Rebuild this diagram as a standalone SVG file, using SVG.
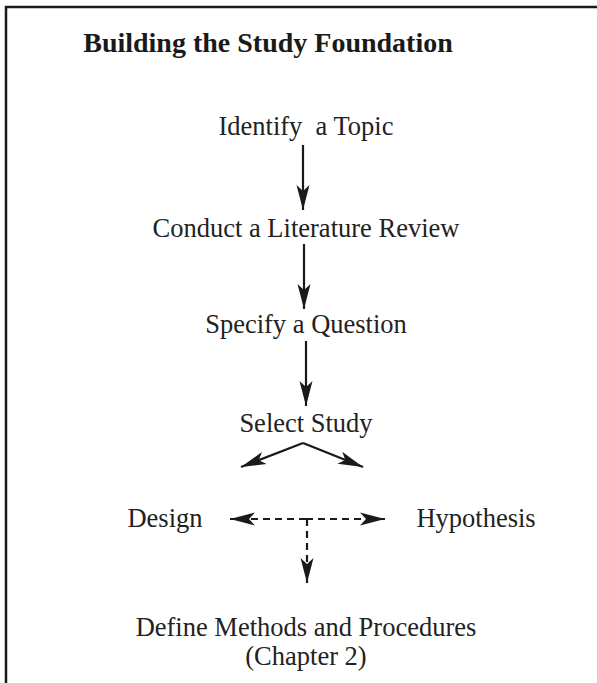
<svg xmlns="http://www.w3.org/2000/svg" width="597" height="683" viewBox="0 0 597 683">
<style>
.t{font-family:"Liberation Serif","Times New Roman",serif;font-size:26.5px;fill:#222;text-anchor:middle}
.title{font-family:"Liberation Serif","Times New Roman",serif;font-size:28px;font-weight:bold;fill:#1a1a1a;text-anchor:middle}
.c{stroke:#1a1a1a;stroke-width:2.2;fill:none}
.d{stroke:#1a1a1a;stroke-width:2.2;fill:none;stroke-dasharray:7,5}
</style>
<defs>
<marker id="ah" markerUnits="userSpaceOnUse" markerWidth="30" markerHeight="16" viewBox="-26 -8 30 16" refX="0" refY="0" orient="auto">
<path d="M0,0 L-25,-6.5 L-19,0 L-25,6.5 Z" fill="#1a1a1a"/>
</marker>
</defs>
<rect x="6" y="7" width="620" height="720" fill="#fff" stroke="#1a1a1a" stroke-width="2.5"/>
<text class="title" x="268" y="52">Building the Study Foundation</text>
<g id="n1"><text class="t" x="306" y="135" xml:space="preserve">Identify  a Topic</text></g>
<g id="n2"><text class="t" x="306" y="237">Conduct a Literature Review</text></g>
<g id="n3"><text class="t" x="306" y="333">Specify a Question</text></g>
<g id="n4"><text class="t" x="306" y="432">Select Study</text></g>
<g id="n5"><text class="t" x="165" y="527">Design</text></g>
<g id="n6"><text class="t" x="476" y="527">Hypothesis</text></g>
<g id="n7"><text class="t" x="306" y="636">Define Methods and Procedures</text><text class="t" x="306" y="665">(Chapter 2)</text></g>
<g id="connectors">
<path class="c" d="M303,145 L303,210" marker-end="url(#ah)"/>
<path class="c" d="M304,244 L304,309" marker-end="url(#ah)"/>
<path class="c" d="M306,341 L306,406" marker-end="url(#ah)"/>
<path class="c" d="M303,443 L241,467" marker-end="url(#ah)"/>
<path class="c" d="M303,443 L363,467" marker-end="url(#ah)"/>
<path class="d" d="M306,519 L230,519" marker-end="url(#ah)"/>
<path class="d" d="M306,519 L385,519" marker-end="url(#ah)"/>
<path class="d" d="M307,519 L307,583" marker-end="url(#ah)"/>
</g>
</svg>
